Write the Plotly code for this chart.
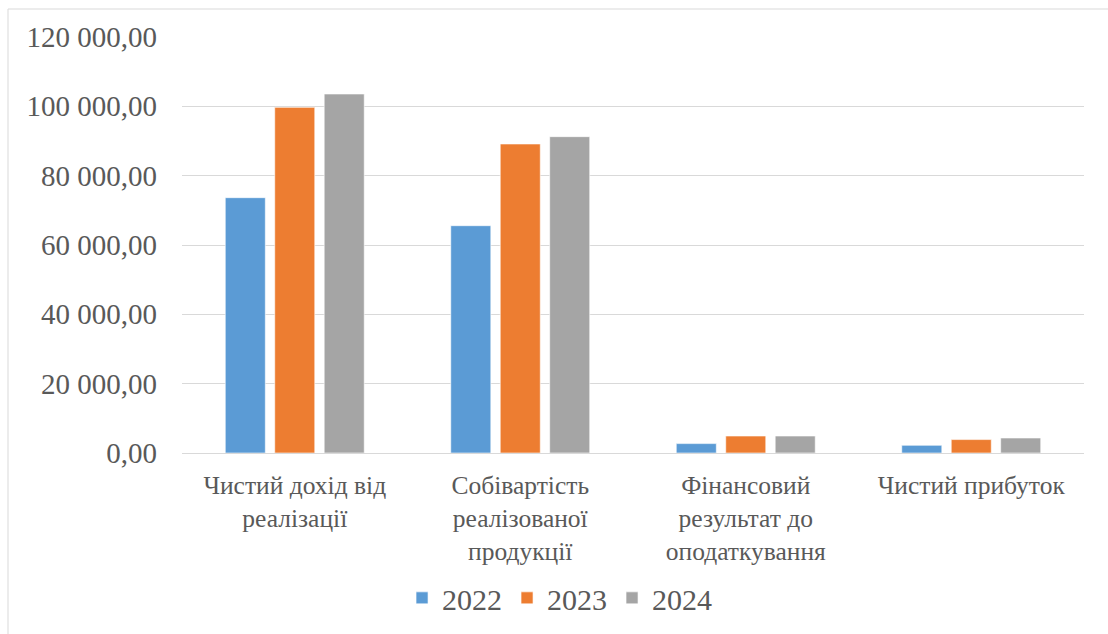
import plotly.graph_objects as go

categories = ["Чистий дохід від<br>реалізації", "Собівартість<br>реалізованої<br>продукції",
              "Фінансовий<br>результат до<br>оподаткування", "Чистий прибуток"]
years = ["2022", "2023", "2024"]
values_2022 = [73650, 65570, 2710, 2220]
values_2023 = [99700, 89140, 4900, 3870]
values_2024 = [103560, 91250, 4900, 4330]
colors = ["#5B9BD5", "#ED7D31", "#A5A5A5"]

FONT = "'Times New Roman', 'Liberation Serif', serif"
L, R, T, B = 182, 24, 37, 181
PW, PH = 1108 - L - R, 634 - T - B

fig = go.Figure()
for name, vals, col in zip(years, [values_2022, values_2023, values_2024], colors):
    fig.add_trace(go.Bar(name=name, x=categories, y=vals, marker_color=col,
                         marker_line=dict(color="rgba(255,255,255,0.6)", width=1)))

fig.update_layout(
    width=1108, height=634,
    margin=dict(l=L, r=R, t=T, b=B, autoexpand=False),
    paper_bgcolor="white", plot_bgcolor="white",
    barmode="group", bargap=0.342, bargroupgap=0.19,
    separators=", ",
    font=dict(family=FONT, size=26, color="#595959"),
    showlegend=True,
    legend=dict(orientation="h", xref="container", yref="container",
                x=0.505, y=0.057, xanchor="center", yanchor="middle",
                font=dict(family=FONT, size=30, color="#595959"), itemwidth=30,
                traceorder="normal"),
    xaxis=dict(showgrid=False, showline=False, ticks="", tickangle=0,
               ticklabelstandoff=14, automargin=False,
               tickfont=dict(family=FONT, size=25.5, color="#595959")),
    yaxis=dict(range=[0, 120000], dtick=20000, tickformat=",.2f",
               showgrid=True, gridcolor="#D9D9D9", gridwidth=1,
               zeroline=True, zerolinecolor="#D9D9D9", zerolinewidth=1,
               showline=False, ticks="", ticklabelstandoff=24, automargin=False,
               tickfont=dict(family=FONT, size=29, color="#595959")),
    shapes=[dict(type="rect", xref="paper", yref="paper",
                 x0=(8 - L) / PW, x1=(1120 - L) / PW,
                 y0=-(650 - T - PH) / PH, y1=1 + (T - 9) / PH,
                 line=dict(color="#D9D9D9", width=1), fillcolor="rgba(0,0,0,0)",
                 layer="below")],
)

fig.write_html("out.html", config={"displayModeBar": False},
               post_script="document.body.style.margin='0';document.body.style.overflow='hidden';")
